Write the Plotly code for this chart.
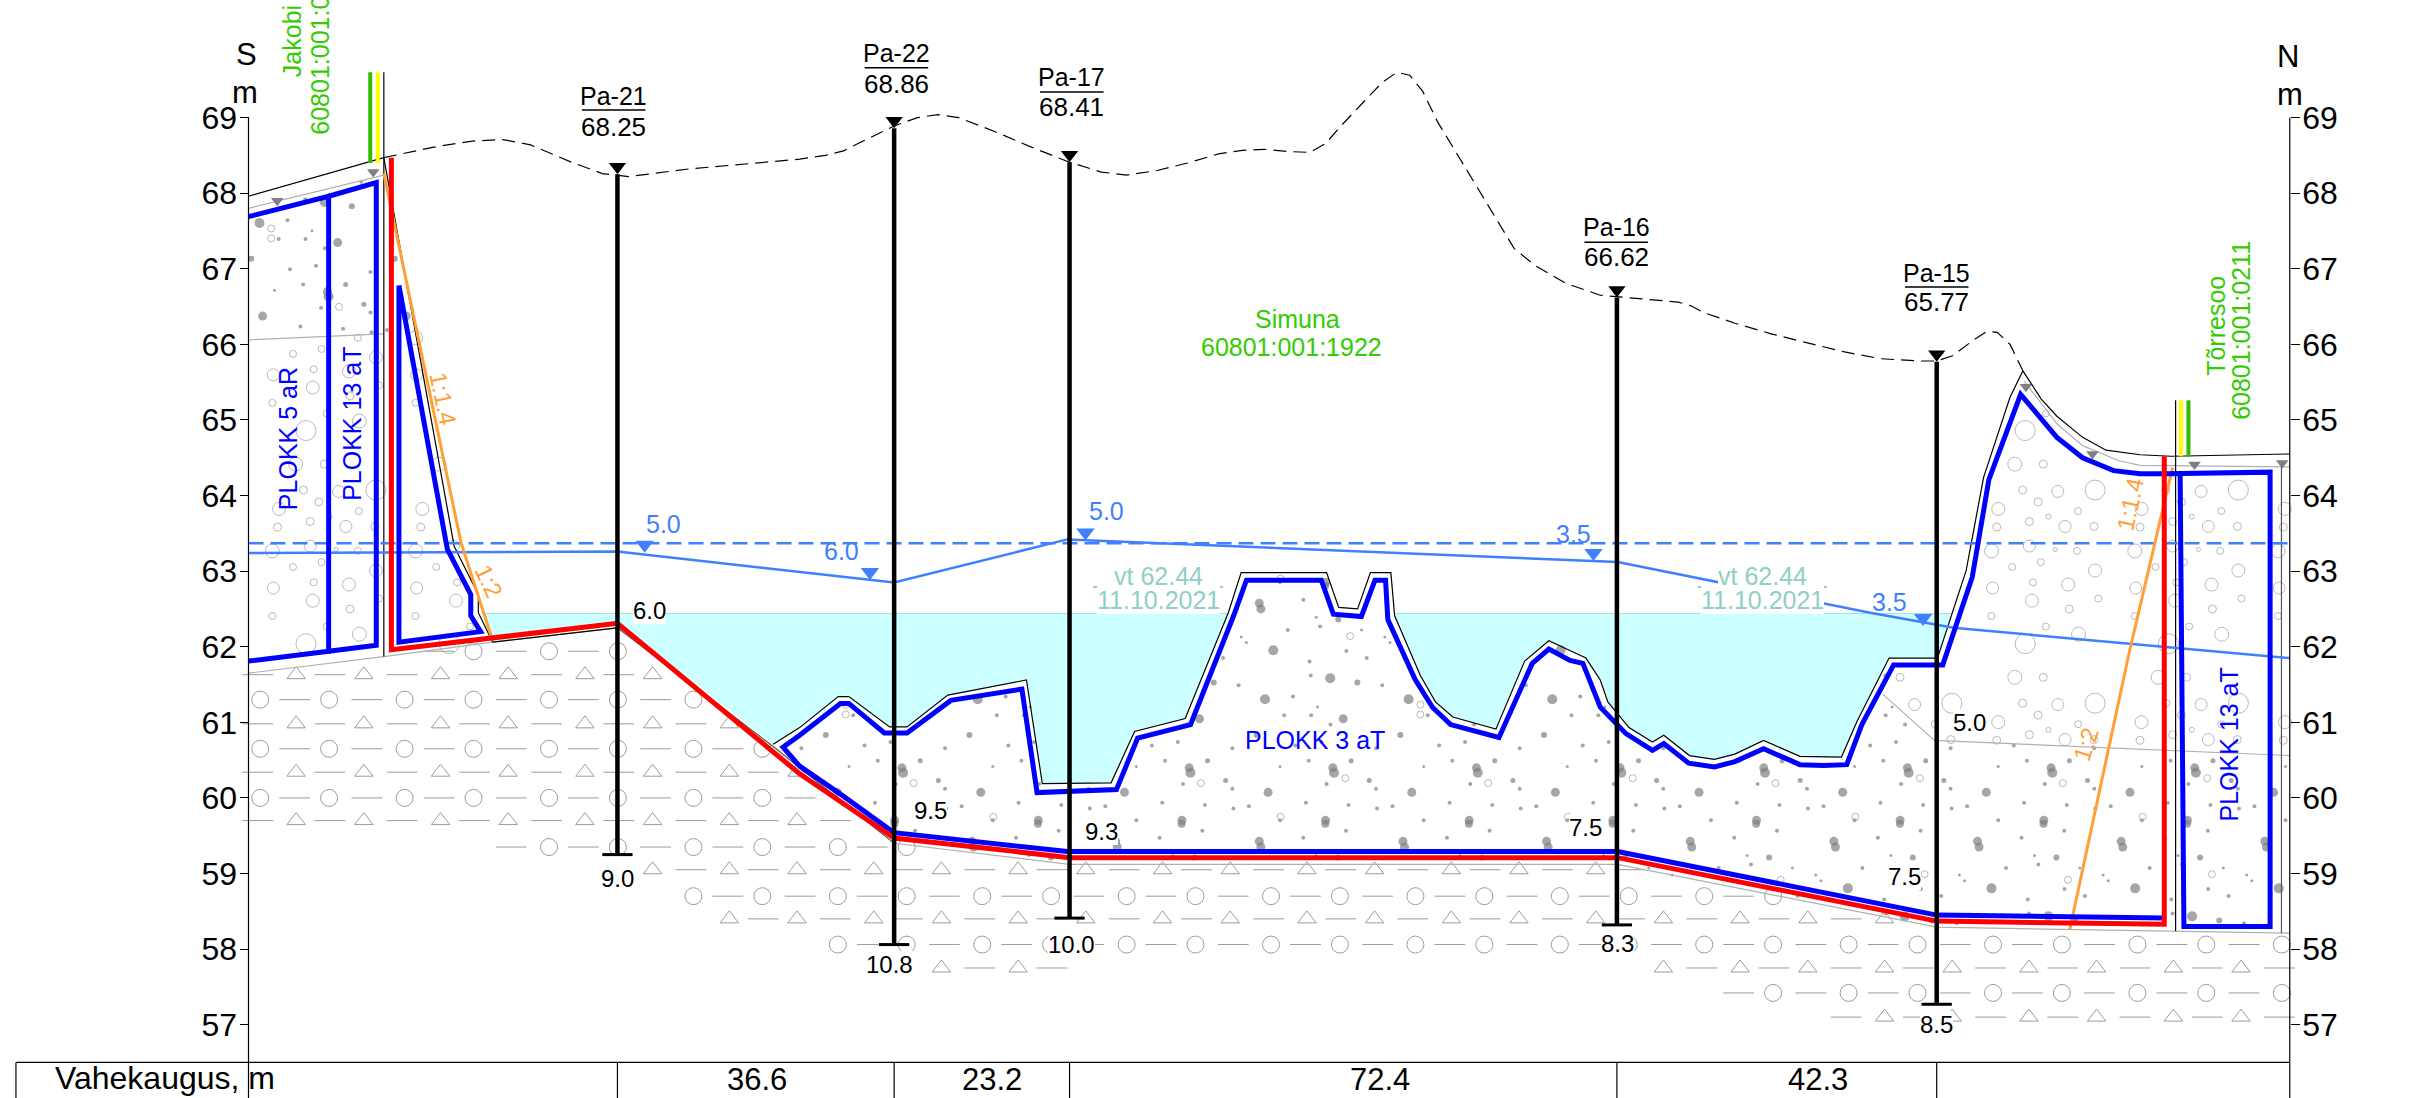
import numpy as np
import plotly.graph_objects as go

W, H = 2413, 1098
FONT = "Liberation Sans"

# ---- axis frame (chainage in metres, elevation in metres)
X_MIN, X_MAX = -32.87, 286.3
Y_MIN, Y_MAX = 56.03, 70.556
TICKS = list(range(57, 70))
AXIS_LEFT, AXIS_RIGHT = 0.0, 270.0
TABLE_LEFT, TABLE_TOP = -30.76, 56.5

# ---- boreholes
bh_names = ["Pa-21", "Pa-22", "Pa-17", "Pa-16", "Pa-15"]
bh_gaps = [36.6, 23.2, 72.4, 42.3]
bh_gap_lab_x = [67.3, 98.4, 149.7, 207.6]
bh_x0 = 48.8
bh_top = [68.25, 68.86, 68.41, 66.62, 65.77]
bh_depth = [9.0, 10.8, 10.0, 8.3, 8.5]
bh_depth_lab_x = [48.8, 84.8, 108.9, 181.1, 223.3]
bh_depth_lab_y = [58.94, 57.80, 58.06, 58.07, 57.00]
bh_lab_x = [48.3, 85.7, 108.9, 180.9, 223.3]
bh_name_y = [69.28, 69.85, 69.54, 67.55, 66.95]
bh_rule_y = [69.10, 69.66, 69.34, 67.35, 66.76]
bh_val_y = [68.88, 69.45, 69.14, 67.15, 66.56]

# ---- ground surface
ground_left_x = [0, 17.9]
ground_left_y = [67.96, 68.47]
terrain_x = [17.9, 24.5, 29.6, 33.6, 37.3, 42.7, 46.8, 50.3, 58.2, 72.9, 76.3, 78.7, 80.7, 85.4, 88.5, 91.2, 93.9,
             98.6, 103.3, 108.6, 112.8, 116.1, 120.2, 124.2, 128.3, 131.7, 134.4, 137.7, 140.4, 142.5, 144.5, 147.2,
             149.9, 151.9, 153.6, 155.3, 157.3, 160.7, 164.1, 167.4, 170.2, 174.2, 178.8, 181.1, 185.7, 189.1, 190.8,
             192.5, 196.6, 201.4, 206.2, 211.1, 215.9, 221.3, 223.3, 225.4, 228.2, 229.9, 231.3, 233.0, 234.7]
terrain_y = [68.47, 68.61, 68.69, 68.71, 68.64, 68.41, 68.26, 68.22, 68.32, 68.45, 68.50, 68.56, 68.66, 68.89, 69.00, 69.04, 69.00,
             68.82, 68.62, 68.41, 68.28, 68.24, 68.30, 68.40, 68.52, 68.57, 68.58, 68.55, 68.54, 68.66, 68.89, 69.17,
             69.46, 69.60, 69.56, 69.35, 68.94, 68.38, 67.82, 67.27, 67.04, 66.81, 66.65, 66.63, 66.59, 66.56, 66.51,
             66.42, 66.28, 66.14, 66.02, 65.90, 65.81, 65.78, 65.78, 65.85, 66.06, 66.17, 66.16, 66.00, 65.65]
ground_right_x = [234.7, 237.1, 239.2, 242.6, 245.7, 250.2, 254.3, 270.0]
ground_right_y = [65.65, 65.28, 65.05, 64.77, 64.60, 64.54, 64.52, 64.55]

# ---- excavation outline (thin black, offset above the blue block line)
offset_x = [69.4, 72.9, 78.0, 79.4, 84.8, 87.1, 92.5, 102.9, 105.0, 114.1, 117.2, 123.9, 129.6, 131.3, 142.6, 144.2, 146.7,
            148.4, 151.1, 151.6, 155.0, 157.0, 159.3, 165.0, 168.8, 172.0, 175.2, 176.9, 178.8, 179.8, 182.6, 185.7,
            187.2, 190.6, 193.9, 196.6, 200.4, 205.2, 210.7, 212.8, 217.0, 223.4, 227.2, 229.5, 233.0, 234.7]
offset_y = [60.71, 60.93, 61.34, 61.34, 60.94, 60.94, 61.36, 61.56, 60.19, 60.20, 60.88, 61.05, 62.45, 62.98, 62.98, 62.52, 62.50,
            62.98, 62.98, 62.41, 61.62, 61.27, 61.07, 60.91, 61.81, 62.08, 61.93, 61.85, 61.56, 61.27, 60.93, 60.74,
            60.83, 60.56, 60.51, 60.58, 60.76, 60.55, 60.54, 61.02, 61.85, 61.85, 63.01, 64.24, 65.30, 65.65]
slope_left_x = [17.9, 27.2, 30.4, 30.4, 32.3]
slope_left_y = [68.47, 63.33, 62.69, 62.45, 62.06]

# ---- soil boundaries (thin grey)
soil_x = [0, 17.9, 32.3, 48.8, 69.4, 85.4, 108.6, 181.1, 223.3, 254.1, 270.0]
soil_y = [61.65, 61.87, 62.06, 62.25, 60.68, 59.40, 59.12, 59.12, 58.29, 58.24, 58.21]
layer_left_x = [0, 17.9]
layer_left_y = [66.06, 66.14]
top_left_x = [0, 17.9]
top_left_y = [67.80, 68.24]
layer_right_x = [216.2, 223.0, 270.0]
layer_right_y = [61.37, 60.76, 60.56]
top_right_x = [234.9, 239.2, 242.6, 247.4, 250.2, 270.0]
top_right_y = [65.51, 64.95, 64.66, 64.46, 64.40, 64.38]
hatch_floor_x = [0, 42, 47, 58, 66, 80, 92, 108, 112, 176, 188, 200, 214, 270]
hatch_floor_y = [59.5, 59.3, 58.95, 58.6, 58.3, 57.95, 57.7, 57.65, 57.95, 57.95, 57.6, 57.3, 56.95, 56.95]

# ---- red excavation line
red_x = [18.9, 18.9, 48.8, 72.9, 85.4, 108.6, 181.1, 223.3, 253.4, 253.4]
red_y = [68.47, 61.96, 62.31, 60.32, 59.47, 59.21, 59.21, 58.37, 58.33, 64.52]

# ---- blue block outlines
block3_x = [253.4, 250.2, 246.7, 242.6, 239.2, 234.4, 230.2, 228.0, 224.1, 217.6, 213.4, 211.4, 208.3, 205.2, 200.4, 196.6,
            193.9, 190.5, 187.2, 185.7, 182.2, 181.1, 178.8, 176.5, 174.8, 172.0, 169.8, 165.4, 159.0, 156.6, 154.3,
            150.7, 150.4, 149.0, 147.2, 143.5, 141.9, 132.0, 130.3, 124.6, 117.6, 114.8, 104.3, 102.3, 92.9, 87.1,
            84.1, 79.4, 78.3, 72.9, 70.7, 72.9, 78.3, 85.4, 108.3, 181.1, 223.3, 253.4]
block3_y = [64.29, 64.29, 64.33, 64.50, 64.77, 65.34, 64.21, 62.92, 61.76, 61.76, 60.97, 60.44, 60.43, 60.44, 60.65, 60.48,
            60.41, 60.46, 60.72, 60.63, 60.85, 60.97, 61.20, 61.78, 61.82, 61.97, 61.78, 60.80, 60.97, 61.20, 61.57,
            62.36, 62.88, 62.88, 62.40, 62.43, 62.88, 62.88, 62.41, 60.97, 60.79, 60.11, 60.07, 61.44, 61.29, 60.86,
            60.86, 61.25, 61.25, 60.83, 60.67, 60.42, 60.05, 59.54, 59.29, 59.29, 58.45, 58.41]
block5_x = [0, 10.6, 10.6, 0]
block5_y = [67.69, 67.96, 61.94, 61.81]
block13a_x = [10.6, 16.9, 16.9, 10.6]
block13a_y = [67.96, 68.14, 62.02, 61.94]
block13b_x = [19.9, 19.9, 30.7, 29.4, 29.4, 26.3, 19.9]
block13b_y = [66.78, 62.06, 62.20, 62.41, 62.69, 63.29, 66.78]
block13c_x = [253.4, 267.4, 267.4, 256.0, 255.5]
block13c_y = [64.29, 64.31, 58.30, 58.30, 64.29]

# ---- orange slopes
slope_o1_x = [17.9, 28.1, 32.3]
slope_o1_y = [68.26, 63.38, 62.08]
slope_o2_x = [240.9, 248.8, 254.5]
slope_o2_y = [58.26, 61.94, 64.37]

# ---- water
water_level = 62.44
gw_dash_y = 63.37
gw_x = [0, 48.8, 85.4, 108.3, 181.1, 214.5, 225.5, 270.0]
gw_y = [63.24, 63.26, 62.85, 63.42, 63.12, 62.45, 62.25, 61.85]
gw_tri_x = [52.4, 82.2, 110.7, 177.9, 221.5]
gw_tri_y = [63.35, 62.99, 63.51, 63.24, 62.38]
gw_lab = ["5.0", "6.0", "5.0", "3.5", "3.5"]
gw_lab_x = [54.9, 78.5, 113.5, 175.3, 217.0]
gw_lab_y = [63.63, 63.27, 63.80, 63.49, 62.59]

# ---- utility poles and markers
poles_green_x = [16.1, 256.6]
poles_yellow_x = [17.1, 255.6]
poles_top = [69.6, 65.26]
poles_base = [68.4, 64.52]
cover_x = [3.8, 16.5, 235.1, 243.9, 257.4, 269.0]
cover_y = [67.90, 68.28, 65.44, 64.55, 64.41, 64.43]

depth_lab = ["6.0", "9.5", "9.3", "7.5", "7.5", "5.0"]
depth_lab_x = [53.0, 90.2, 112.8, 176.9, 219.1, 227.6]
depth_lab_y = [62.48, 59.83, 59.56, 59.61, 58.96, 61.00]

# ---- hatch tiles (one repeat of each drawing pattern)
HATCH_GREY = "#9c9c9c"
circ_rows = [61.94, 61.30, 60.65, 60.00, 59.35, 58.70, 58.06, 57.42]
tri_rows = [61.63, 60.98, 60.34, 59.70, 59.05, 58.40, 57.75, 57.10]
circ_col = [1.55, 10.66]
tri_col = [6.3, 15.25]
col_period = 19.1
grav_tile_x = [130, 110, 165, 125, 193, 265, 155, 78, 232, 175, 75, 138, 207, 263, 65, 138, 230, 188, 105, 160, 265,
               145, 67, 213, 271, 143, 215, 65, 170, 233]
grav_tile_y = [0, 48, 48, 85, 87, 85, 102, 112, 115, 123, 138, 130, 137, 137, 172, 165, 172, 170, 195, 188, 200,
               217, 225, 220, 240, 243, 255, 265, 280, 291]
grav_tile_s = [20, 14, 8, 8, 12, 20, 8, 13, 7, 5, 8, 8, 12, 8, 14, 12, 7, 4, 7, 7, 13, 7, 12, 13, 7, 13, 8, 7, 7, 14]
GRAV_W, GRAV_H = 18.95, 2.82
dot_tile_x = [203, 227, 160, 211, 337, 297, 368, 300, 362, 342, 320, 248, 67, 148, 100, 148, 217, 328, 50, 90, 200, 285,
              240, 180, 290, 150, 330, 18, 255, 120, 40, 75, 130, 175, 265, 112, 35, 270, 195, 60, 135, 240, 95, 165, 22, 310]
dot_tile_y = [0, 59, 109, 129, 99, 75, 60, 152, 157, 227, 190, 152, 234, 199, 217, 257, 262, 302, 307, 317, 332, 327,
              302, 282, 277, 285, 250, 217, 30, 30, 25, 15, 70, 48, 125, 105, 140, 195, 180, 165, 245, 225, 280, 40, 95, 12]
dot_tile_s = [9, 10, 4, 10, 10, 4, 4, 4, 9, 9, 4, 4, 10, 4, 5, 4, 9, 9, 8, 4, 9, 4, 4, 4, 4, 4, 4, 4, 4, 3,
              4, 6, 4, 3, 4, 6, 3, 4, 6, 4, 5, 3, 4, 3, 4, 3]
DOT_W, DOT_H = 19.0, 3.15
ring_tile_x = [141, 285, 419, 0, 131, 410, 555]
ring_tile_y = [90, 0, 82, 194, 292, 285, 180]
RING_W, RING_H = 38.0, 3.15

# ---- regions for hatches
dots_left = ([0, 22.3, 17.9, 0], [66.06, 66.14, 68.24, 67.8])
grav_left = ([0, 22.3, 27.2, 30.4, 30.4, 32.3, 18, 0], [66.06, 66.14, 63.33, 62.69, 62.45, 62.06, 61.87, 61.65])
dots_mid = (offset_x[:41] + layer_right_x + [270.0] + soil_x[::-1][1:6],
            offset_y[:41] + layer_right_y + [58.21] + soil_y[::-1][1:6])
grav_right = ([216.2, 217.0, 223.4, 227.2, 229.5, 233.0] + top_right_x + [270.0, 223.0],
              [61.37, 61.85, 61.85, 63.01, 64.24, 65.30] + top_right_y + [60.56, 60.76])


def inside(px, py, poly):
    xs, ys = np.asarray(poly[0], float), np.asarray(poly[1], float)
    px, py = np.asarray(px, float), np.asarray(py, float)
    res = np.zeros(px.shape, bool)
    j = len(xs) - 1
    for i in range(len(xs)):
        with np.errstate(divide="ignore", invalid="ignore"):
            cond = ((ys[i] > py) != (ys[j] > py)) & (px < (xs[j] - xs[i]) * (py - ys[i]) / (ys[j] - ys[i]) + xs[i])
        res ^= cond
        j = i
    return res


def tile(tx, ty, ts, w, h, x0, y0, scale_x=14.6, scale_y=108.0):
    X, Y, S = [], [], []
    for k in range(-16, 16):
        for m in range(-2, 6):
            for a, b, c in zip(tx, ty, ts):
                X.append(x0 + a / scale_x + k * w)
                Y.append(y0 - b / scale_y - m * h)
                S.append(c)
    return np.array(X), np.array(Y), np.array(S)


fig = go.Figure()


def line(x, y, color, width, dash=None):
    fig.add_trace(go.Scatter(x=x, y=y, mode="lines", cliponaxis=False,
                             line=dict(color=color, width=width, dash=dash)))


def markers(x, y, symbol, size, color, lw=1):
    fig.add_trace(go.Scatter(x=x, y=y, mode="markers", cliponaxis=False,
                             marker=dict(symbol=symbol, size=size, color=color, line=dict(color=color, width=lw))))


def label(x, y, text, size=25, color="black", angle=0, xanchor="center", yanchor="middle", bg=None):
    fig.add_annotation(x=x, y=y, text=text, showarrow=False, textangle=angle, xanchor=xanchor, yanchor=yanchor,
                       font=dict(family=FONT, size=size, color=color), bgcolor=bg, borderpad=0, borderwidth=0)


# water fill
basin_a_x = [30.9, 129.6] + offset_x[11::-1] + [48.8, 32.3]
basin_a_y = [water_level, water_level] + offset_y[11::-1] + [62.31, 62.08]
basin_b_x = [151.6, 225.3, 223.4, 217.0] + offset_x[39:18:-1]
basin_b_y = [water_level, water_level, 61.85, 61.85] + offset_y[39:18:-1]
for bx, by in ((basin_a_x, basin_a_y), (basin_b_x, basin_b_y)):
    fig.add_trace(go.Scatter(x=bx, y=by, mode="lines", fill="toself", fillcolor="#ccffff",
                             line=dict(width=0), cliponaxis=False))
line([30.9, 129.6], [water_level] * 2, "#a8e0dc", 1)
line([151.6, 225.3], [water_level] * 2, "#a8e0dc", 1)

# moraine hatch
soil_poly = (soil_x + hatch_floor_x[::-1], soil_y + hatch_floor_y[::-1])
cols = np.arange(-1, 15)
cx = np.array([c + k * col_period for k in cols for c in circ_col])
tx = np.array([c + k * col_period for k in cols for c in tri_col])
ccx, ccy = np.meshgrid(cx, circ_rows)
ttx, tty = np.meshgrid(tx, tri_rows)
cxm, txm = (cx[:-1] + cx[1:]) / 2, (tx[:-1] + tx[1:]) / 2
dcx, dcy = np.meshgrid(cxm, circ_rows)
dtx, dty = np.meshgrid(txm, tri_rows)
for ax_, ay_, sym, sz in ((ccx, ccy, "circle-open", 17), (ttx, tty, "triangle-up-open", 16),
                          (dcx, dcy, "line-ew-open", 22), (dtx, dty, "line-ew-open", 22)):
    ax_, ay_ = ax_.ravel(), ay_.ravel()
    keep = inside(ax_, ay_, soil_poly) & (ax_ <= AXIS_RIGHT) & (ax_ >= AXIS_LEFT)
    markers(ax_[keep], ay_[keep], sym, sz, HATCH_GREY)

# gravel hatch
gx, gy, gs = tile(grav_tile_x, grav_tile_y, grav_tile_s, GRAV_W, GRAV_H, 226.1, 64.86)
for poly in (grav_left, grav_right):
    k = inside(gx, gy, poly)
    markers(gx[k], gy[k], "circle-open", gs[k], HATCH_GREY)

# sand dots hatch
dx, dy, ds = tile(dot_tile_x, dot_tile_y, dot_tile_s, DOT_W, DOT_H, 120.0, 62.5)
rx, ry, rs = tile(ring_tile_x, ring_tile_y, [7] * len(ring_tile_x), RING_W, RING_H, 117.0, 62.9)
for poly in (dots_left, dots_mid):
    k = inside(dx, dy, poly)
    markers(dx[k], dy[k], "circle", ds[k], "#808080", lw=0)
    k = inside(rx, ry, poly)
    markers(rx[k], ry[k], "circle-open", rs[k], HATCH_GREY)

# grey soil lines
for a, b in ((soil_x, soil_y), (layer_left_x, layer_left_y), (top_left_x, top_left_y),
             (layer_right_x, layer_right_y), (top_right_x, top_right_y)):
    line(a, b, "#b0b0b0", 1.2)
markers(cover_x, cover_y, "triangle-down", 11, "#808080", lw=0)

# black outlines
line(ground_left_x, ground_left_y, "black", 1.2)
line(terrain_x, terrain_y, "black", 1.2, "13px,7px")
line(ground_right_x, ground_right_y, "black", 1.2)
line(offset_x, offset_y, "black", 1.2)
line(slope_left_x, slope_left_y, "black", 1.2)
line([32.3, 48.8], [62.06, 62.25], "black", 1.2)
line(soil_x[3:6], soil_y[3:6], "#666666", 1.2)
line([17.9, 17.9], [poles_top[0], 61.87], "black", 1.2)
line([254.9, 254.9], [poles_top[1], 58.24], "black", 1.2)
line([268.9, 268.9], [64.38, 58.21], "#555555", 1.2)

# utility poles
for gxv, yxv, t, b in zip(poles_green_x, poles_yellow_x, poles_top, poles_base):
    line([gxv, gxv], [t, b], "#33bb00", 4)
    line([yxv, yxv], [t, b], "#ffff00", 4)

# groundwater
line([AXIS_LEFT, AXIS_RIGHT], [gw_dash_y] * 2, "#3f80ff", 2.5, "15px,7px")
line(gw_x, gw_y, "#3f80ff", 2.5)
markers(gw_tri_x, gw_tri_y, "triangle-down", 16, "#3f80ff", lw=0)

# design lines
line(slope_o1_x, slope_o1_y, "#ff9f38", 3)
line(slope_o2_x, slope_o2_y, "#ff9f38", 3)
for a, b in ((block5_x, block5_y), (block13a_x, block13a_y), (block13b_x, block13b_y), (block13c_x, block13c_y),
             (block3_x, block3_y)):
    line(a, b, "#0000ff", 5)
line(red_x, red_y, "#ff0000", 5)

# boreholes
bh_x = [bh_x0]
for gap in bh_gaps:
    bh_x.append(round(bh_x[-1] + gap, 1))
for x, top, depth, lx, ry_ in zip(bh_x, bh_top, bh_depth, bh_lab_x, bh_rule_y):
    bottom = top - depth
    line([x, x], [top, bottom], "black", 4.5)
    line([x - 2.0, x + 2.0], [bottom, bottom], "black", 3)
    line([lx - 4.2, lx + 4.2], [ry_, ry_], "black", 1.5)
markers(bh_x, [t + 0.1 for t in bh_top], "triangle-down", 15, "black", lw=0)

# frame and table
line([AXIS_LEFT, AXIS_LEFT], [69, Y_MIN], "black", 1.2)
line([AXIS_RIGHT, AXIS_RIGHT], [69, Y_MIN], "black", 1.2)
line([TABLE_LEFT, AXIS_RIGHT], [TABLE_TOP, TABLE_TOP], "black", 1.2)
line([TABLE_LEFT, TABLE_LEFT], [TABLE_TOP, Y_MIN], "black", 1.2)
for x in bh_x:
    line([x, x], [TABLE_TOP, Y_MIN], "black", 1.2)

# keeps the right-hand elevation axis alive
fig.add_trace(go.Scatter(x=[AXIS_RIGHT], y=[63], yaxis="y2", mode="markers", marker=dict(opacity=0)))

# texts
for n, v, lx, ny, vy in zip(bh_names, bh_top, bh_lab_x, bh_name_y, bh_val_y):
    label(lx, ny, n, 25)
    label(lx, vy, f"{v:.2f}", 26)
for v, lx, ly in zip(bh_depth, bh_depth_lab_x, bh_depth_lab_y):
    label(lx, ly, f"{v:.1f}", 24, bg="white")
for t, lx, ly in zip(depth_lab, depth_lab_x, depth_lab_y):
    label(lx, ly, t, 24, bg="white")
for t, lx, ly in zip(gw_lab, gw_lab_x, gw_lab_y):
    label(lx, ly, t, 25, "#3f80ff")
for cx_, x1, x2 in ((120.4, 111.7, 128.9), (200.3, 191.7, 208.8)):
    label(cx_, 62.94, "vt 62.44", 25, "#8fcfc4", bg="white")
    label(cx_, 62.62, "11.10.2021", 25, "#8fcfc4", bg="white")
for cx_, x1, x2 in ((120.4, 111.7, 128.9), (200.3, 191.7, 208.8)):
    fig.add_shape(type="line", x0=x1, x1=x2, y0=62.79, y1=62.79, line=dict(color="#8fcfc4", width=2), layer="above")

label(141.0, 60.77, "PLOKK 3 aT", 25, "#0000ff")
label(5.26, 64.75, "PLOKK 5 aR", 25, "#0000ff", -90)
label(13.7, 64.95, "PLOKK 13 aT", 25, "#0000ff", -90)
label(261.9, 60.70, "PLOKK 13 aT", 25, "#0000ff", -90)
label(25.7, 65.28, "1:1.4", 24, "#ff9f38", 78)
label(31.7, 62.87, "1:2", 24, "#ff9f38", 65)
label(248.9, 63.88, "1:1.4", 24, "#ff9f38", -78)
label(243.0, 60.71, "1:2", 24, "#ff9f38", -72)
GREEN = "#33cc00"
label(5.67, 69.54, "Jakobi", 25, GREEN, -90, yanchor="bottom")
label(9.45, 68.78, "60801:001:0212", 25, GREEN, -90, yanchor="bottom")
label(260.2, 65.58, "Tõrresoo", 25, GREEN, -90, yanchor="bottom")
label(263.6, 65.00, "60801:001:0211", 25, GREEN, -90, yanchor="bottom")
label(138.7, 66.34, "Simuna", 25, GREEN)
label(138.0, 65.97, "60801:001:1922", 25, GREEN)
label(-0.2, 69.83, "S", 31)
label(-0.4, 69.33, "m", 31)
label(269.8, 69.81, "N", 31)
label(270.0, 69.31, "m", 31)
label(-11.0, 56.30, "Vahekaugus, m", 32)
for xl, g in zip(bh_gap_lab_x, bh_gaps):
    label(xl, 56.27, f"{g:.1f}", 31)

axis_common = dict(range=[Y_MIN, Y_MAX], tickmode="array", tickvals=TICKS, ticktext=[str(t) for t in TICKS],
                   showgrid=False, zeroline=False, showline=False, ticks="outside", ticklen=9, tickwidth=1.2,
                   tickcolor="black", tickfont=dict(family=FONT, size=32, color="black"), anchor="free",
                   ticklabelstandoff=-4)

fig.update_layout(
    width=W, height=H, autosize=False, margin=dict(l=0, r=0, t=0, b=0),
    plot_bgcolor="white", paper_bgcolor="white", showlegend=False, hovermode=False,
    xaxis=dict(range=[X_MIN, X_MAX], visible=False),
    yaxis=dict(position=(AXIS_LEFT - X_MIN) / (X_MAX - X_MIN), side="left", **axis_common),
    yaxis2=dict(position=(AXIS_RIGHT - X_MIN) / (X_MAX - X_MIN), side="right", overlaying="y", **axis_common),
)

fig.write_html("out.html", config={"displayModeBar": False},
               post_script="document.body.style.margin='0';document.body.style.overflow='hidden';")
